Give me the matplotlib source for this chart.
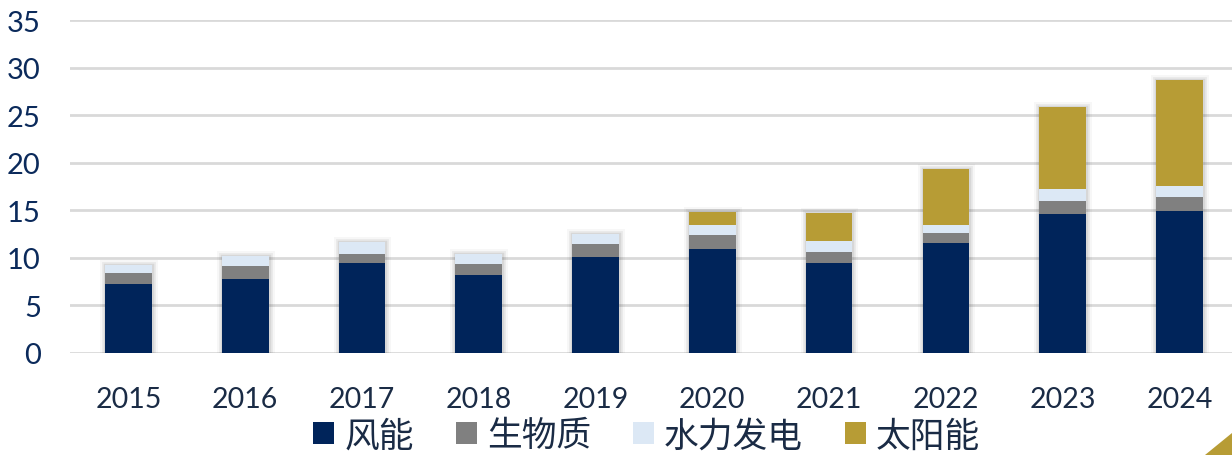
import numpy as np
import matplotlib
matplotlib.use("Agg")
import matplotlib.pyplot as plt
import matplotlib.patheffects as pe
from matplotlib.patches import Polygon

plt.rcParams['font.family'] = ['Lato', 'Noto Sans CJK SC', 'DejaVu Sans']

# ===================== 数据 =====================
years   = ['2015', '2016', '2017', '2018', '2019', '2020', '2021', '2022', '2023', '2024']
wind    = [7.2, 7.8, 9.5, 8.2, 10.1, 10.9, 9.5, 11.6, 14.65, 14.9]
biomass = [1.2, 1.3, 0.9, 1.2, 1.4, 1.45, 1.15, 1.0, 1.35, 1.5]
hydro   = [0.9, 1.1, 1.3, 1.05, 1.0, 1.15, 1.1, 0.9, 1.2, 1.2]
solar   = [0, 0, 0, 0, 0, 1.35, 2.95, 5.85, 8.7, 11.05]
labels  = ['风能', '生物质', '水力发电', '太阳能']
colors  = ['#00245A', '#808080', '#DCE8F5', '#B79C35']

x = np.arange(len(years))
w = 0.40
total = np.array(wind) + np.array(biomass) + np.array(hydro) + np.array(solar)

fig = plt.figure(figsize=(12.32, 4.56), dpi=100)
ax = fig.add_axes([70 / 1232, 102 / 456, 1 - 70 / 1232, 333 / 456])

# 阴影效果（柔和的灰色外框）
shadow = ax.bar(x, total, w, color='white', zorder=1.5, linewidth=0)
for p in shadow:
    p.set_path_effects([
        pe.Stroke(linewidth=8, foreground='#000000', alpha=0.03),
        pe.Stroke(linewidth=5, foreground='#000000', alpha=0.05),
        pe.Stroke(linewidth=2.5, foreground='#000000', alpha=0.08),
        pe.Normal(),
    ])

bottom = np.zeros(len(years))
for vals, lab, c in zip([wind, biomass, hydro, solar], labels, colors):
    ax.bar(x, vals, w, bottom=bottom, color=c, label=lab, zorder=2, linewidth=0)
    bottom += np.array(vals)

# 坐标轴样式
ax.set_xlim(-0.5, 9.45)
ax.set_ylim(0, 35)
ax.set_yticks(range(0, 36, 5))
ax.set_xticks(x)
ax.set_xticklabels(years)
ax.grid(axis='y', color='#D9D9D9', linewidth=2, zorder=0.5)
ax.set_axisbelow(True)
for s in ax.spines.values():
    s.set_visible(False)
ax.tick_params(axis='y', length=0, pad=21, labelsize=21, labelcolor='#0B2A5B')
ax.tick_params(axis='x', length=0, pad=24, labelsize=20.5, labelcolor='#1A2B45')

leg = fig.legend(loc='center', bbox_to_anchor=(0.525, 0.042), ncol=4, frameon=False,
                 prop={'family': ['Noto Sans CJK SC', 'DejaVu Sans'], 'size': 25, 'weight': 'light'},
                 handlelength=0.6, handleheight=0.6, handletextpad=0.3, columnspacing=1.2,
                 borderpad=0)
for t in leg.get_texts():
    t.set_color('#1A2B45')

# 右下角装饰三角
fig.patches.append(Polygon([[1205 / 1232, 0], [1, 0], [1, 22 / 456]], closed=True,
                           transform=fig.transFigure, facecolor='#B79C35', edgecolor='none'))

plt.savefig('out.png', dpi=100)
